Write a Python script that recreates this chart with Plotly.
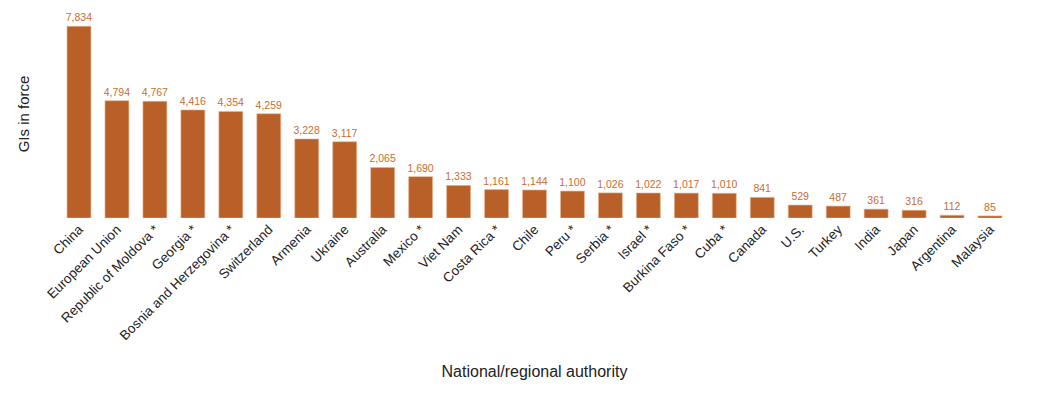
import plotly.graph_objects as go

categories = ["China", "European Union", "Republic of Moldova *", "Georgia *",
              "Bosnia and Herzegovina *", "Switzerland", "Armenia", "Ukraine",
              "Australia", "Mexico *", "Viet Nam", "Costa Rica *", "Chile",
              "Peru *", "Serbia *", "Israel *", "Burkina Faso *", "Cuba *",
              "Canada", "U.S.", "Turkey", "India", "Japan", "Argentina", "Malaysia"]
values = [7834, 4794, 4767, 4416, 4354, 4259, 3228, 3117, 2065, 1690, 1333,
          1161, 1144, 1100, 1026, 1022, 1017, 1010, 841, 529, 487, 361, 316, 112, 85]

bar_color = "#b95f28"
label_color = "#c96d33"

fig = go.Figure(go.Bar(
    x=categories, y=values,
    marker=dict(color=bar_color, line=dict(color="#e8b48f", width=0.6)),
    text=[f"{v:,}" for v in values],
    textposition="outside",
    constraintext="none",
    textfont=dict(family="Liberation Sans, Arial, sans-serif", size=10.5, color=label_color),
    cliponaxis=False,
))

fig.update_layout(
    width=1038, height=396,
    margin=dict(l=52, r=37, t=2, b=186),
    plot_bgcolor="white", paper_bgcolor="white",
    bargap=0.37,
    showlegend=False,
    font=dict(family="Liberation Sans, Arial, sans-serif", color="#222222"),
)
fig.update_xaxes(
    tickangle=-45,
    tickfont=dict(size=13.5, color="#222222"),
    showline=False, showgrid=False, ticks="",
    title=dict(text="National/regional authority", font=dict(size=16, color="#222222"), standoff=23),
    automargin=False,
)
fig.update_yaxes(
    range=[0, 8500],
    showticklabels=False, showgrid=False, zeroline=False, showline=False, ticks="",
    title=dict(text="GIs in force", font=dict(size=15, color="#222222"), standoff=25),
    automargin=False,
)

fig.write_html("out.html")
